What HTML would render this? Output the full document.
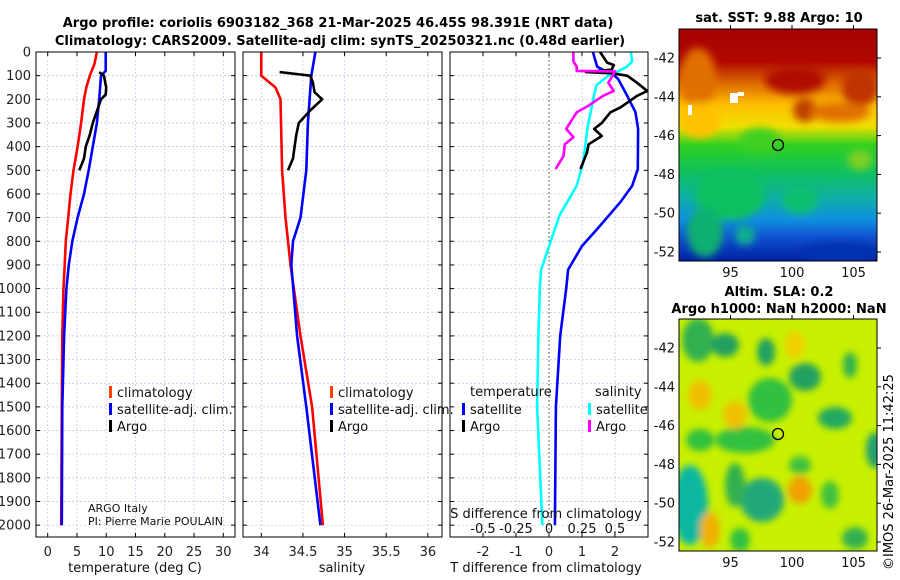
<!DOCTYPE html>
<html><head><meta charset="utf-8"><style>
body{margin:0;background:#fff;}
svg{display:block;font-family:"DejaVu Sans","Liberation Sans",sans-serif;}
</style></head><body>
<svg id="fig" width="900" height="580" viewBox="0 0 900 580" xmlns="http://www.w3.org/2000/svg">
<defs>
<filter id="blur1" x="-20%" y="-20%" width="140%" height="140%"><feGaussianBlur stdDeviation="4"/></filter>
<filter id="blur2" x="-30%" y="-30%" width="160%" height="160%"><feGaussianBlur stdDeviation="3.5"/></filter>
<clipPath id="cm1"><rect x="679" y="29" width="198" height="232"/></clipPath>
<clipPath id="cm2"><rect x="679" y="319" width="198" height="232"/></clipPath>
<linearGradient id="sstg" x1="0" y1="0" x2="0" y2="1">
<stop offset="0" stop-color="#a80000"/><stop offset="0.14" stop-color="#b00800"/>
<stop offset="0.24" stop-color="#e07000"/><stop offset="0.33" stop-color="#ffc000"/>
<stop offset="0.42" stop-color="#f0e000"/><stop offset="0.5" stop-color="#30d020"/>
<stop offset="0.62" stop-color="#10c060"/><stop offset="0.72" stop-color="#10b0a0"/>
<stop offset="0.82" stop-color="#1090e0"/><stop offset="0.9" stop-color="#1050d0"/>
<stop offset="1" stop-color="#0020a0"/></linearGradient>
</defs>
<g id="titles" font-weight="bold" font-size="13" text-anchor="middle" fill="#000">
<text x="338" y="27">Argo profile: coriolis 6903182_368 21-Mar-2025 46.45S 98.391E (NRT data)</text>
<text x="340" y="45">Climatology: CARS2009. Satellite-adj clim: synTS_20250321.nc (0.48d earlier)</text>
<text x="779" y="22">sat. SST: 9.88 Argo: 10</text>
<text x="779" y="296">Altim. SLA: 0.2</text>
<text x="779" y="313">Argo h1000: NaN h2000: NaN</text>
</g>
<g id="panels"></g>
<g id="maps">
<g clip-path="url(#cm1)">
<rect x="679" y="29" width="198" height="232" fill="url(#sstg)"/>
<g filter="url(#blur1)">
<ellipse cx="698" cy="78" rx="18" ry="30" fill="#e07000"/>
<ellipse cx="700" cy="120" rx="20" ry="18" fill="#ffc000"/>
<ellipse cx="795" cy="80" rx="30" ry="14" fill="#b01000"/>
<ellipse cx="860" cy="88" rx="18" ry="18" fill="#c03000"/>
<ellipse cx="805" cy="110" rx="12" ry="12" fill="#c04000"/>
<ellipse cx="840" cy="112" rx="30" ry="10" fill="#e07000"/>
<ellipse cx="760" cy="140" rx="20" ry="12" fill="#40d020"/>
<ellipse cx="730" cy="195" rx="35" ry="25" fill="#10c060"/>
<ellipse cx="705" cy="232" rx="18" ry="25" fill="#10b070"/>
<ellipse cx="800" cy="200" rx="18" ry="14" fill="#10c070"/>
<ellipse cx="860" cy="160" rx="12" ry="10" fill="#80d020"/>
<ellipse cx="840" cy="252" rx="40" ry="10" fill="#0030b0"/>
<ellipse cx="745" cy="235" rx="10" ry="10" fill="#10b090"/>
</g>
<rect x="730" y="93" width="8" height="10" fill="#fff"/>
<rect x="738" y="92" width="6" height="4" fill="#fff"/>
<rect x="688" y="105" width="4" height="10" fill="#fff"/>
</g>
<g clip-path="url(#cm2)">
<rect x="679" y="319" width="198" height="232" fill="#c8f000"/>
<g filter="url(#blur2)">
<ellipse cx="698" cy="340" rx="16" ry="22" fill="#30b050"/>
<ellipse cx="725" cy="345" rx="14" ry="12" fill="#20a060"/>
<ellipse cx="766" cy="352" rx="9" ry="14" fill="#20a060"/>
<ellipse cx="805" cy="377" rx="16" ry="14" fill="#20a060"/>
<ellipse cx="850" cy="365" rx="7" ry="13" fill="#30b050"/>
<ellipse cx="770" cy="400" rx="22" ry="22" fill="#30c040"/>
<ellipse cx="745" cy="440" rx="30" ry="13" fill="#30c040"/>
<ellipse cx="700" cy="440" rx="14" ry="11" fill="#30c040"/>
<ellipse cx="835" cy="418" rx="17" ry="11" fill="#20a860"/>
<ellipse cx="875" cy="450" rx="9" ry="18" fill="#20a070"/>
<ellipse cx="690" cy="505" rx="18" ry="40" fill="#10b8a0"/>
<ellipse cx="762" cy="500" rx="22" ry="22" fill="#20a878"/>
<ellipse cx="735" cy="485" rx="10" ry="22" fill="#30b050"/>
<ellipse cx="800" cy="465" rx="11" ry="9" fill="#40c040"/>
<ellipse cx="830" cy="495" rx="9" ry="14" fill="#40c040"/>
<ellipse cx="855" cy="538" rx="13" ry="11" fill="#30b050"/>
<ellipse cx="740" cy="540" rx="10" ry="12" fill="#30c040"/>
<ellipse cx="700" cy="395" rx="12" ry="15" fill="#f0c000"/>
<ellipse cx="735" cy="415" rx="12" ry="14" fill="#f0c000"/>
<ellipse cx="800" cy="490" rx="12" ry="14" fill="#f0a000"/>
<ellipse cx="710" cy="530" rx="10" ry="18" fill="#f0b000"/>
<ellipse cx="795" cy="345" rx="10" ry="14" fill="#f0d000"/>
</g>
</g>
<circle cx="778" cy="145" r="5.5" fill="none" stroke="#000" stroke-width="1.3"/>
<circle cx="778" cy="434" r="5.5" fill="none" stroke="#000" stroke-width="1.3"/>
<rect x="679" y="29" width="198" height="232" fill="none" stroke="#000" stroke-width="1"/>
<rect x="679" y="319" width="198" height="232" fill="none" stroke="#000" stroke-width="1"/>
</g>
<text transform="translate(893,570) rotate(-90)" font-size="13" fill="#000">©IMOS 26-Mar-2025 11:42:25</text>
</svg>
<script>
// depth axis
var depthTicks=[0,100,200,300,400,500,600,700,800,900,1000,1100,1200,1300,1400,1500,1600,1700,1800,1900,2000];
// panel 1 temperature
var tClimDepth=[0,50,100,150,200,300,400,500,600,700,800,900,1000,1200,1500,2000];
var tClim=[8.4,8.0,7.2,6.6,6.2,5.7,5.1,4.4,3.9,3.5,3.1,2.9,2.7,2.5,2.4,2.3];
var tSatDepth=[0,80,100,200,300,400,500,600,700,800,900,1000,1200,1500,2000];
var tSat=[9.9,9.9,9.1,8.8,8.4,7.7,7.0,6.2,5.1,4.2,3.6,3.2,2.8,2.5,2.4];
var tArgoDepth=[85,100,150,180,200,250,300,350,400,450,500];
var tArgo=[8.8,9.6,10.0,9.9,9.1,8.4,7.7,7.2,6.5,6.2,5.4];
var tTicks=[0,5,10,15,20,25,30];
// panel 2 salinity
var sClimDepth=[0,100,150,200,500,700,900,1200,1500,2000];
var sClim=[34.0,34.0,34.17,34.23,34.25,34.29,34.35,34.47,34.61,34.74];
var sSatDepth=[0,100,300,500,700,800,900,1200,1500,2000];
var sSat=[34.65,34.6,34.56,34.54,34.47,34.38,34.36,34.43,34.54,34.71];
var sArgoDepth=[85,95,100,130,170,200,250,300,350,400,450,500];
var sArgo=[34.22,34.47,34.59,34.62,34.64,34.73,34.58,34.45,34.42,34.4,34.38,34.32];
var sTicks=[34,34.5,35,35.5,36];
// panel 3 differences
var dTSatDepth=[0,62,80,90,115,185,255,325,495,565,635,750,820,920,1000,1200,1500,2000];
var dTSat=[1.33,1.46,1.7,1.91,2.1,2.37,2.62,2.7,2.69,2.52,2.16,1.45,1.0,0.58,0.52,0.34,0.21,0.18];
var dTArgoDepth=[0,45,55,75,85,90,100,130,165,185,235,255,300,325,355,390,425,495];
var dTArgo=[1.55,1.76,1.96,1.9,1.12,1.91,2.37,2.67,2.98,2.67,2.16,1.86,1.6,1.37,1.6,1.2,1.15,0.95];
var dSSatDepth=[0,40,62,80,100,140,185,325,466,565,690,805,920,1000,1200,1500,2000];
var dSSat=[0.62,0.63,0.59,0.53,0.45,0.36,0.34,0.29,0.26,0.21,0.08,0.01,-0.06,-0.07,-0.08,-0.09,-0.05];
var dSArgoDepth=[0,40,62,80,82,130,165,185,230,255,325,360,390,440,495];
var dSArgo=[0.185,0.185,0.21,0.21,0.5,0.45,0.49,0.41,0.29,0.21,0.13,0.185,0.12,0.11,0.05];
var dTTicks=[-2,-1,0,1,2];
var dSTicks=[-0.5,-0.25,0,0.25,0.5];
var dSTickLabels=['-0.5','-0.25','0','0.25','0.5'];
// map axes
var latTicks=[-42,-44,-46,-48,-50,-52];
var lonTicks=[95,100,105];

var NS='http://www.w3.org/2000/svg';
var root=document.getElementById('panels');
function mk(tag,attrs,parent){var e=document.createElementNS(NS,tag);for(var k in attrs)e.setAttribute(k,attrs[k]);(parent||root).appendChild(e);return e;}
var Y0=52,Y1=537,DMAX=2050;
function yS(d){return Y0+d/DMAX*(Y1-Y0);}
function makeX(x0,x1,vmin,vmax){return function(v){return x0+(v-vmin)/(vmax-vmin)*(x1-x0);};}
function frame(x0,x1,xs,ticks,labels,showY,name){
  var g=mk('g',{});
  
  
  depthTicks.forEach(function(d){
    mk('line',{x1:x0,x2:x1,y1:yS(d),y2:yS(d),stroke:'#b8c4e8','stroke-width':0.7,'stroke-dasharray':'2,2'},g);
    mk('line',{x1:x0,x2:x0+4,y1:yS(d),y2:yS(d),stroke:'#000'},g);
    mk('line',{x1:x1-4,x2:x1,y1:yS(d),y2:yS(d),stroke:'#000'},g);
    if(showY){var t=mk('text',{x:x0-5,y:yS(d)+4.5,'font-size':13,'text-anchor':'end',fill:'#222'},g);t.textContent=d;
      
      }
  });
  ticks.forEach(function(v,i){
    var x=xs(v);
    mk('line',{x1:x,x2:x,y1:Y0,y2:Y1,stroke:'#b8c4e8','stroke-width':0.7,'stroke-dasharray':'2,2'},g);
    mk('line',{x1:x,x2:x,y1:Y1,y2:Y1-4,stroke:'#000'},g);
    mk('line',{x1:x,x2:x,y1:Y0,y2:Y0+4,stroke:'#000'},g);
    var t=mk('text',{x:x,y:556,'font-size':13,'text-anchor':'middle',fill:'#222'},g);t.textContent=labels[i];
    
    
  });
  return g;
}
function line(xs,vals,depths,color,name,w){
  var p=vals.map(function(v,i){return xs(v).toFixed(1)+','+yS(depths[i]).toFixed(1);}).join(' ');
  var e=mk('polyline',{points:p,fill:'none',stroke:color,'stroke-width':w||2.6,'stroke-linejoin':'round'});
  
  
}
function box(x0,x1){mk('rect',{x:x0,y:Y0,width:x1-x0,height:Y1-Y0,fill:'none',stroke:'#000','stroke-width':1});}
function txt(x,y,s,size,name,anchor){var t=mk('text',{x:x,y:y,'font-size':size,fill:'#111','text-anchor':anchor||'start'});t.textContent=s;
  
  return t;}
function legend(x,y,color,label,name){
  var r=mk('rect',{x:x,y:y-10,width:3,height:12,fill:color});
  
  
  txt(x+8,y+1,label,13,name);
}
// panel 1
var x1s=makeX(36,235,-2,32);
frame(36,235,x1s,tTicks,tTicks.map(String),true,'temperature-panel');
line(x1s,tClim,tClimDepth,'#ff0000','temp-climatology-line');
line(x1s,tSat,tSatDepth,'#0000ff','temp-satellite-line');
line(x1s,tArgo,tArgoDepth,'#000','temp-argo-line');
box(36,235);
txt(135,572,'temperature (deg C)',13,'temperature-axis-title','middle');
legend(109,396,'#ff4000','climatology','legend-climatology');
legend(109,413,'#0000ff','satellite-adj. clim.','legend-satellite');
legend(109,430,'#000','Argo','legend-argo');
txt(88,512,'ARGO Italy',11,'institution-label');
txt(88,525,'PI: Pierre Marie POULAIN',11,'pi-label');
// panel 2
var x2s=makeX(243,442,33.78,36.17);
frame(243,442,x2s,sTicks,sTicks.map(String),false,'salinity-panel');
line(x2s,sClim,sClimDepth,'#ff0000','sal-climatology-line');
line(x2s,sSat,sSatDepth,'#0000ff','sal-satellite-line');
line(x2s,sArgo,sArgoDepth,'#000','sal-argo-line');
box(243,442);
txt(342,572,'salinity',13,'salinity-axis-title','middle');
legend(330,396,'#ff4000','climatology','legend-sal-climatology');
legend(330,413,'#0000ff','satellite-adj. clim.','legend-sal-satellite');
legend(330,430,'#000','Argo','legend-sal-argo');
// panel 3
var x3s=makeX(450,648,-3,3);
var x3ss=makeX(450,648,-0.75,0.75);
frame(450,648,x3s,dTTicks,dTTicks.map(String),false,'difference-panel');
mk('line',{x1:x3s(0),x2:x3s(0),y1:Y0,y2:Y1,stroke:'#445522','stroke-width':1,'stroke-dasharray':'1.5,2.5'});
line(x3ss,dSSat,dSSatDepth,'#00ffff','sal-diff-satellite-line');
line(x3s,dTSat,dTSatDepth,'#0000ff','temp-diff-satellite-line');
line(x3s,dTArgo,dTArgoDepth,'#000','temp-diff-argo-line');
line(x3ss,dSArgo,dSArgoDepth,'#ff00ff','sal-diff-argo-line');
box(450,648);
txt(470,396,'temperature',13,'legend-temperature-header');
txt(595,396,'salinity',13,'legend-salinity-header');
legend(462,413,'#0000ff','satellite','legend-temp-satellite');
legend(462,430,'#000','Argo','legend-temp-argo');
legend(588,413,'#00ffff','satellite','legend-sal-diff-satellite');
legend(588,430,'#ff00ff','Argo','legend-sal-diff-argo');
txt(546,518,'S difference from climatology',13,'s-diff-axis-title','middle');
dSTicks.forEach(function(v,i){txt(x3ss(v),533,dSTickLabels[i],13,'s-diff-tick-label','middle');});
txt(546,572,'T difference from climatology',13,'t-diff-axis-title','middle');
// map axes
function mapAxes(y0,yA,yB){
  var latS=function(l){return yA+(l-(-42))/(-10)*(yB-yA);};
  var lonS=function(l){return 792+(l-100)*12.3;};
  latTicks.forEach(function(l){
    var y=latS(l);
    mk('line',{x1:877,x2:881,y1:y,y2:y,stroke:'#000'});
    txt(675,y+4.5,String(l),13,'lat-tick-label','end');
  });
  lonTicks.forEach(function(l){
    var x=lonS(l);
    mk('line',{x1:x,x2:x,y1:y0,y2:y0-4,stroke:'#000'});
    txt(x,y0+232+16,String(l),13,'lon-tick-label','middle');
  });
}
mapAxes(29,58,252);
mapAxes(319,348,542);
</script>
</body></html>
